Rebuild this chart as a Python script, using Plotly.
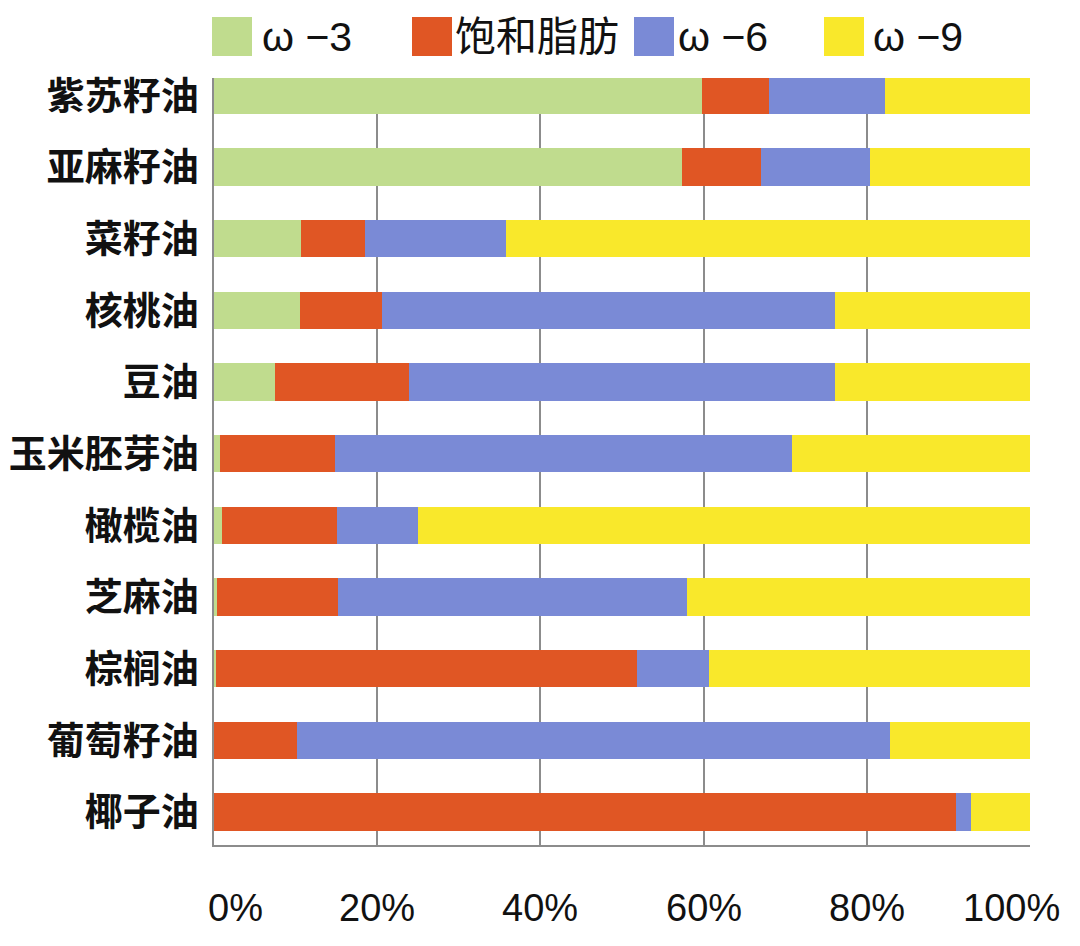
import plotly.graph_objects as go

# 油的种类（从上到下）
oils = ["紫苏籽油", "亚麻籽油", "菜籽油", "核桃油", "豆油", "玉米胚芽油",
        "橄榄油", "芝麻油", "棕榈油", "葡萄籽油", "椰子油"]

# 各类脂肪酸比例 (%)
omega3 = [59.8, 57.4, 10.7, 10.5, 7.5, 0.7, 1.0, 0.4, 0.2, 0.0, 0.0]
saturated = [8.2, 9.6, 7.8, 10.1, 16.4, 14.1, 14.1, 14.8, 51.6, 10.2, 91.0]
omega6 = [14.2, 13.4, 17.3, 55.5, 52.2, 56.0, 9.9, 42.8, 8.9, 72.7, 1.8]
omega9 = [17.8, 19.6, 64.2, 23.9, 23.9, 29.2, 75.0, 42.0, 39.3, 17.1, 7.2]

series_names = ["ω −3", "饱和脂肪", "ω −6", "ω −9"]
series_values = [omega3, saturated, omega6, omega9]
colors = ["#C0DC8E", "#E05624", "#7A8AD6", "#F9E82B"]

x_ticks = [0, 20, 40, 60, 80, 100]
x_ticklabels = ["0%", "20%", "40%", "60%", "80%", "100%"]

# 页面 body 默认有 8px 边距，这里按窗口像素换算
OFF = 8
W, H = 1080 - 2 * OFF, 946 - 2 * OFF
plot_l, plot_r, plot_t, plot_b = 214 - OFF, 1030 - OFF, 78 - OFF, 845 - OFF
L, R, T, B = plot_l, W - plot_r, plot_t, H - plot_b

pw, ph = plot_r - plot_l, plot_b - plot_t
def px_x(px):
    return (px - OFF - plot_l) / pw
def px_y(py):
    return (plot_b - (py - OFF)) / ph

fig = go.Figure()

for name, vals, col in zip(series_names, series_values, colors):
    fig.add_trace(go.Bar(
        y=oils,
        x=vals,
        name=name,
        orientation="h",
        marker=dict(color=col, line=dict(width=0)),
        width=0.52,
        showlegend=False,
    ))

# 图例：大方块 + 文字
sq_left = [212, 412, 634, 824]
txt_left = [260, 453, 676, 871]
for i, name in enumerate(series_names):
    fig.add_shape(type="rect", xref="paper", yref="paper",
                  x0=px_x(sq_left[i]), x1=px_x(sq_left[i] + 40),
                  y0=px_y(56), y1=px_y(17),
                  fillcolor=colors[i], line=dict(width=0))
    fig.add_annotation(xref="paper", yref="paper",
                       x=px_x(txt_left[i]), y=px_y(37),
                       xanchor="left", yanchor="middle",
                       text=name, showarrow=False,
                       font=dict(size=41, color="#111111",
                                 family="Liberation Sans, Noto Sans CJK SC"))

# x 轴刻度文字（两端向内收）
for v, t in zip(x_ticks, x_ticklabels):
    if v == x_ticks[0]:
        anchor, shift = "left", -8
    elif v == x_ticks[-1]:
        anchor, shift = "right", 32
    else:
        anchor, shift = "center", 0
    fig.add_annotation(xref="x", yref="paper", x=v, y=px_y(908),
                       xanchor=anchor, yanchor="middle", xshift=shift,
                       text=t, showarrow=False,
                       font=dict(size=38, family="Liberation Sans", color="#111111"))

fig.update_layout(
    width=W, height=H,
    margin=dict(l=L, r=R, t=T, b=B, autoexpand=False),
    barmode="stack",
    plot_bgcolor="white",
    paper_bgcolor="white",
    font=dict(family="Noto Sans CJK SC", color="#111111"),
)

fig.update_xaxes(
    range=[0, 100.01],
    tickvals=x_ticks,
    showticklabels=False,
    showgrid=True, gridcolor="#8c8c8c", gridwidth=1.5,
    showline=True, linecolor="#8c8c8c", linewidth=1.5,
    zeroline=False,
    ticks="",
    automargin=False,
)

fig.update_yaxes(
    categoryorder="array",
    categoryarray=oils,
    range=[10.46, -0.24],
    showgrid=False,
    showline=True, linecolor="#8c8c8c", linewidth=1.5,
    ticks="",
    automargin=False,
    ticklabelstandoff=6,
    tickfont=dict(size=38, family="Noto Sans CJK SC", weight="bold", color="#111111"),
)

fig.write_html("out.html")
